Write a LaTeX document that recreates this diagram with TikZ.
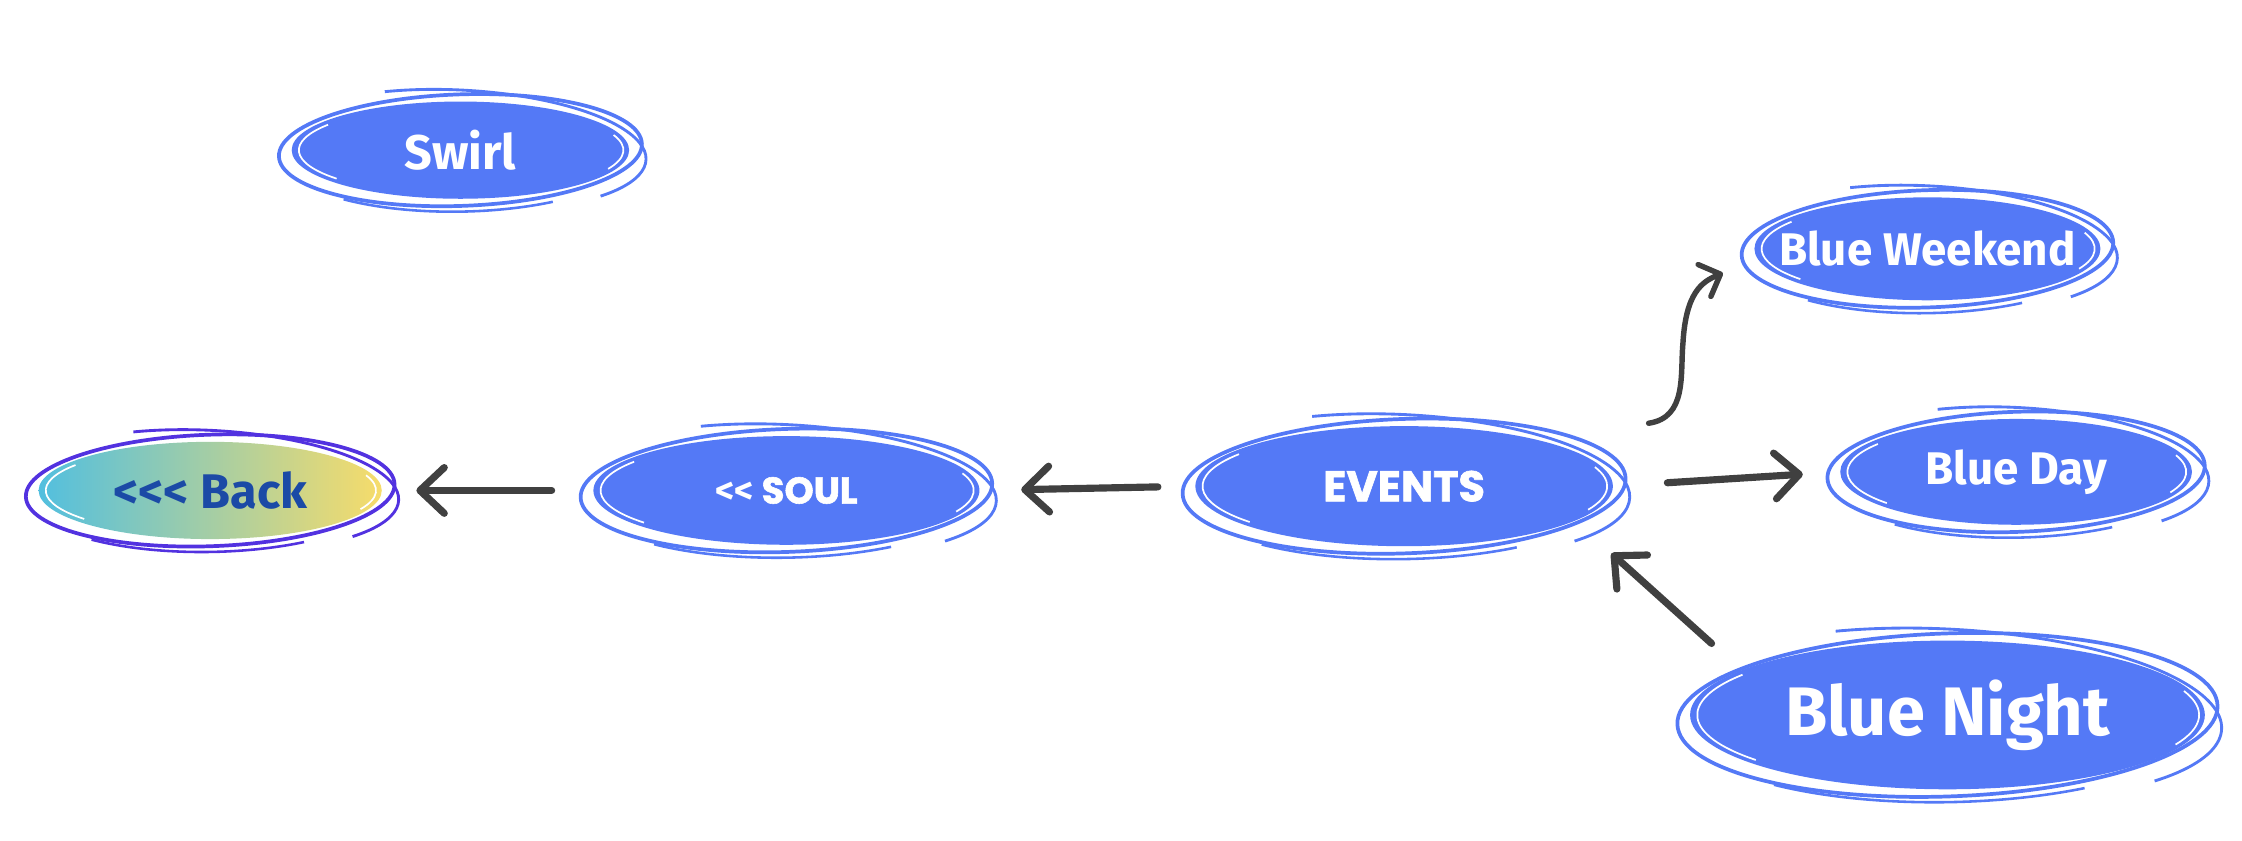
\documentclass[tikz,border=0pt]{standalone}
\usepackage{fontspec}
\setmainfont{Fira Sans}
\newfontfamily\heavyfont{Poppins}[BoldFeatures={FakeBold=1.5}]
\usetikzlibrary{arrows.meta,shapes.geometric}
\definecolor{nodeblue}{HTML}{5479F6}
\definecolor{arrowgrey}{HTML}{404040}
\definecolor{backcyan}{HTML}{52BFDF}
\definecolor{backyellow}{HTML}{F7DC6A}
\definecolor{backline}{HTML}{5232E0}
\definecolor{backtext}{HTML}{1B4AA6}
\newcommand\sketchring[4]{%
  \draw[#4, line width=2.6pt, rotate around={2:(#1.center)}] (#1.center) ellipse [x radius=#2+9, y radius=#3+5];
  \draw[#4, line width=2pt, rotate around={-3:(#1.center)}] ([shift={(245:#2+12 and #3+8)}]#1.center) arc [start angle=245, end angle=400, x radius=#2+12, y radius=#3+8];
  \draw[#4, line width=1.8pt, rotate around={1:(#1.center)}] ([shift={(60:#2+10 and #3+9)}]#1.center) arc [start angle=60, end angle=130, x radius=#2+10, y radius=#3+9];
  \draw[white, line width=1.2pt] ([shift={(140:#2-5 and #3-3)}]#1.center) arc [start angle=140, end angle=215, x radius=#2-5, y radius=#3-3];
  \draw[white, line width=1.2pt] ([shift={(-20:#2-4 and #3-3)}]#1.center) arc [start angle=-20, end angle=25, x radius=#2-4, y radius=#3-3];
}
\newcommand\ctr[1]{\makebox[0pt]{#1}}
\begin{document}
\begin{tikzpicture}[x=1pt,y=-1pt,
  blob/.style={ellipse, fill=nodeblue, text=white, inner sep=0pt},
  link/.style={draw=arrowgrey, line width=5pt, line cap=round,
    -{Straight Barb[length=17pt,width=32pt,round]}},
  lbl/.style={font=\bfseries\fontsize{32}{36}\selectfont},
  ]
\useasboundingbox (0,0) rectangle (1568,587.5);

\node[blob, minimum width=236pt, minimum height=68pt, font=\bfseries\fontsize{34}{38}\selectfont] (swirl) at (322,105) {\ctr{Swirl}};
\node[ellipse, inner sep=0pt, minimum width=240pt, minimum height=68pt, left color=backcyan, right color=backyellow, text=backtext, font=\bfseries\fontsize{34}{40}\selectfont] (back) at (147,343) {\ctr{{<}{<}{<} Back}};
\node[blob, minimum width=270pt, minimum height=76pt, font=\heavyfont\bfseries\fontsize{26}{30}\selectfont] (soul) at (550,343) {\ctr{{\normalfont\bfseries\fontsize{26}{30}\selectfont{<}{<}} SOUL}};
\node[blob, minimum width=292pt, minimum height=84pt, font=\heavyfont\bfseries\fontsize{30}{34}\selectfont] (events) at (982,340) {\ctr{EVENTS}};
\node[blob, minimum width=242pt, minimum height=72pt, lbl] (weekend) at (1348,174) {\ctr{Blue Weekend}};
\node[blob, minimum width=246pt, minimum height=74pt, lbl] (day) at (1410,330) {\ctr{Blue Day}};
\node[blob, minimum width=360pt, minimum height=104pt, font=\bfseries\fontsize{48}{54}\selectfont] (night) at (1362,500) {\ctr{Blue Night}};

\sketchring{swirl}{118}{34}{nodeblue}
\sketchring{back}{120}{34}{backline}
\sketchring{soul}{135}{38}{nodeblue}
\sketchring{events}{146}{42}{nodeblue}
\sketchring{weekend}{121}{36}{nodeblue}
\sketchring{day}{123}{37}{nodeblue}
\sketchring{night}{180}{52}{nodeblue}

\draw[link, shorten <=29pt, shorten >=24pt] (soul.west) -- (back.east);
\draw[link, shorten <=26pt, shorten >=29pt] (events.west) -- (soul.east);
\draw[link, shorten <=38pt, shorten >=26pt] (events.east) -- (day.west);
\draw[link] ([shift={(-165,-50)}]night.center) -- ([shift={(145,47)}]events.center);
\draw[link, line width=3.8pt, -{Straight Barb[length=12pt,width=24pt,round]}] ([shift={(171,-44)}]events.center) .. controls (1180,292) and (1175,262) .. (1177,240)
   .. controls (1179,205) and (1190,197) .. ([shift={(-143,17)}]weekend.center);
\end{tikzpicture}
\end{document}
